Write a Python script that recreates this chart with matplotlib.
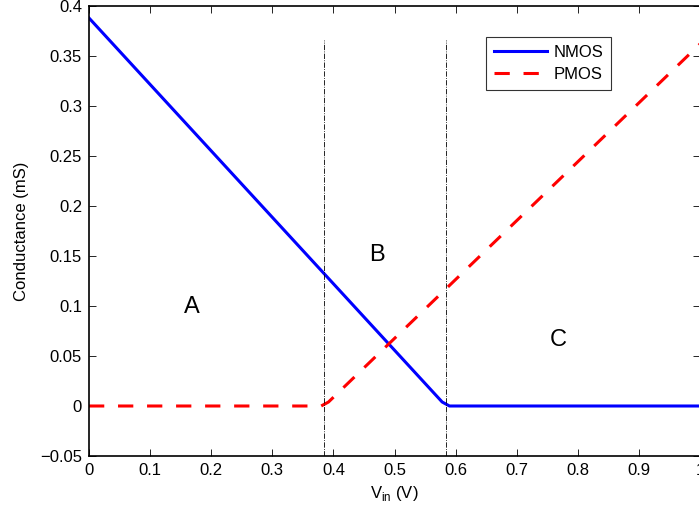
import matplotlib
matplotlib.use('Agg')
import matplotlib.pyplot as plt
import numpy as np

plt.rcParams['font.family'] = ['Liberation Sans', 'DejaVu Sans']

# Conductance vs input voltage (piecewise linear)
vin_n = [0.0, 0.578, 0.590, 1.0]
g_nmos = [0.388, 0.004, 0.0, 0.0]
vin_p = [0.0, 0.380, 0.392, 1.0]
g_pmos = [0.0, 0.0, 0.004, 0.362]

# region boundaries and labels
v_bounds = [0.385, 0.585]
regions = ['A', 'B', 'C']
region_x = [0.169, 0.471, 0.768]
region_y = [0.099, 0.151, 0.066]

fig = plt.figure(figsize=(6.99, 5.11), dpi=100)
ax = fig.add_axes([89/699, 55/511, 611/699, 450/511])

ax.plot(vin_n, g_nmos, color='#0000ff', lw=2.2, label='NMOS')
ax.plot(vin_p, g_pmos, color='#ff0000', lw=2.2, dashes=(5, 4.5), label='PMOS')

for v in v_bounds:
    ax.plot([v, v], [-0.05, 0.366], color='k', lw=0.6, ls='-.')

for t, x, y in zip(regions, region_x, region_y):
    ax.text(x, y, t, fontsize=17, ha='center', va='center')

ax.set_xlim(0, 1)
ax.set_ylim(-0.05, 0.4)
ax.set_xticks(np.arange(0, 1.01, 0.1))
ax.set_xticklabels(['0', '0.1', '0.2', '0.3', '0.4', '0.5', '0.6', '0.7', '0.8', '0.9', '1'])
ax.set_yticks(np.arange(-0.05, 0.401, 0.05))
ax.set_yticklabels(['\u22120.05', '0', '0.05', '0.1', '0.15', '0.2', '0.25', '0.3', '0.35', '0.4'])
ax.tick_params(direction='in', top=True, right=True, labelsize=12, length=5, width=0.6, pad=5)
for s in ax.spines.values():
    s.set_linewidth(1.2)

ax.set_xlabel('V$_{\\mathregular{in}}$ (V)', fontsize=12, labelpad=4)
ax.set_ylabel('Conductance (mS)', fontsize=12, labelpad=8)

leg = ax.legend(loc='upper left', bbox_to_anchor=((486 - 89)/611, (456 - 37)/450),
                fontsize=12, frameon=True, fancybox=False, edgecolor='k',
                handlelength=3.2, handletextpad=0.4, borderaxespad=0,
                borderpad=0.45, labelspacing=0.45)
leg.get_frame().set_linewidth(0.8)

fig.savefig('out.png', dpi=100)
